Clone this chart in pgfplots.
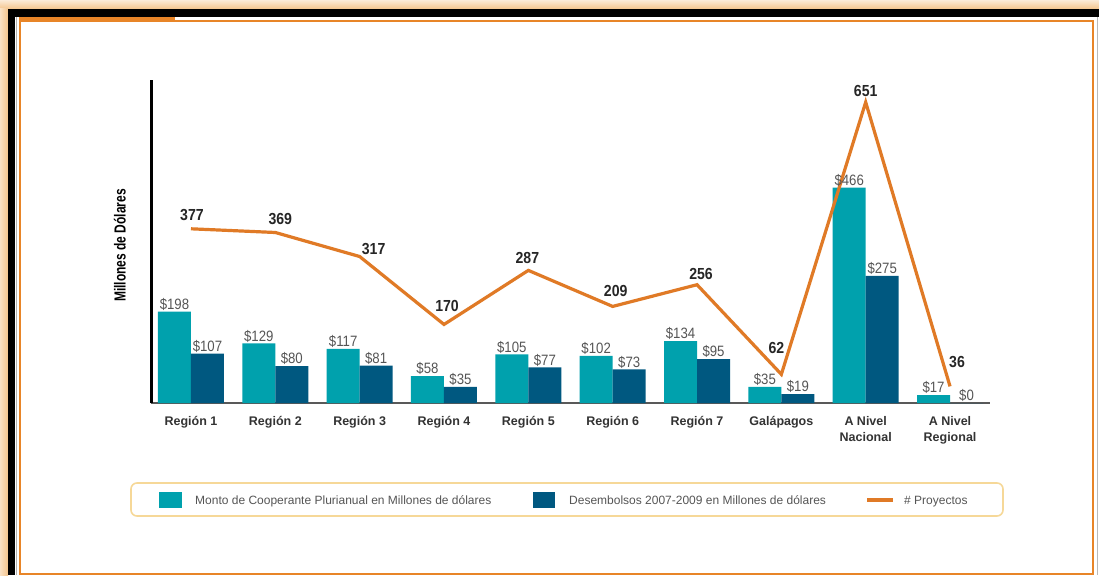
\documentclass[border=0pt]{standalone}
\usepackage{fontspec}
\setmainfont{Liberation Sans}
\newfontfamily\numfont[FakeStretch=0.88]{Liberation Sans}
\newfontfamily\ylabfont[FakeStretch=0.75]{Liberation Sans}
\usepackage{pgfplots}
\pgfplotsset{compat=1.18}
\usepackage{pgfplotstable}

\definecolor{barteal}{RGB}{0,161,173}
\definecolor{bardark}{RGB}{0,88,128}
\definecolor{lineorange}{RGB}{224,122,38}
\definecolor{frameorange}{RGB}{232,133,40}
\definecolor{glow}{RGB}{244,196,140}
\definecolor{legborder}{RGB}{246,216,152}
\definecolor{labelgray}{RGB}{85,85,85}

% regions, two money series (millones de dolares) and number of projects
% dx/dy: offset of the project label from its point
\pgfplotstableread{
x teal dark proj dx dy
0 198 107 377 1 14
1 129 80 369 5 13
2 117 81 317 14 8
3 58 35 170 3 18
4 105 77 287 -1 12
5 102 73 209 3 15
6 134 95 256 4 11
7 35 19 62 -5 26
8 466 275 651 0 11
9 17 0 36 7 24
}\datatable

\begin{document}
\begin{tikzpicture}
\useasboundingbox (0,0) rectangle (1099pt,-575pt);
\fill[white] (0,0) rectangle (1099pt,-575pt);

% frame
\shade[top color=glow!35, bottom color=glow] (0,0) rectangle (1099pt,-9pt);
\shade[left color=glow!50, right color=glow] (0,-9pt) rectangle (8pt,-575pt);
\fill[black] (8pt,-9pt) rectangle (1099pt,-17pt);
\fill[black] (8pt,-9pt) rectangle (15pt,-575pt);
\draw[gray!60, line width=1pt] (16.5pt,-17pt) -- (16.5pt,-575pt);
\draw[frameorange, line width=2.4pt] (20pt,-575pt) -- (20pt,-21pt) -- (1093pt,-21pt) -- (1093pt,-575pt);
\draw[frameorange, line width=2pt] (20pt,-574pt) -- (1093pt,-574pt);
\fill[frameorange] (18.5pt,-17pt) rectangle (175pt,-21pt);
\draw[gray!55, line width=1pt] (1097.5pt,-17pt) -- (1097.5pt,-575pt);

\begin{axis}[
    at={(151pt,-403pt)}, anchor=south west,
    scale only axis,
    width=839pt, height=323pt,
    xmin=-0.474, xmax=9.474,
    ymin=0, ymax=699,
    enlargelimits=false,
    axis x line=bottom, axis y line=left,
    x axis line style={-, line width=1.3pt, black!65},
    y axis line style={-, line width=3pt, black},
    ytick=\empty,
    xtick=data,
    xticklabels={Región 1, Región 2, Región 3, Región 4, Región 5, Región 6, Región 7, Galápagos, {A Nivel\\Nacional}, {A Nivel\\Regional}},
    typeset ticklabels with strut,
    xticklabel style={font=\bfseries\fontsize{12.5}{16}\selectfont, text=black!80, align=center, inner sep=0pt, yshift=-11.5pt},
    major tick length=0pt,
    ylabel={Millones de Dólares},
    ylabel style={font=\ylabfont\bfseries\fontsize{16}{16}\selectfont, at={(axis description cs:-0.037,0.488)}, anchor=center},
    /pgf/number format/assume math mode=true,
    clip=false,
]
\addplot[ybar, bar width=33pt, bar shift=-16.5pt, fill=barteal, draw=none,
    nodes near coords={\$\pgfmathprintnumber{\pgfplotspointmeta}},
    nodes near coords style={font=\numfont\fontsize{15}{15}\selectfont, text=labelgray, inner sep=1pt, anchor=south, xshift=-16.5pt}]
    table[x=x, y=teal]{\datatable};
\addplot[ybar, bar width=33pt, bar shift=16.5pt, fill=bardark, draw=none,
    nodes near coords={\$\pgfmathprintnumber{\pgfplotspointmeta}},
    nodes near coords style={font=\numfont\fontsize{15}{15}\selectfont, text=labelgray, inner sep=1pt, anchor=south, xshift=16.5pt}]
    table[x=x, y=dark]{\datatable};
\addplot[color=lineorange, line width=3.2pt, mark=none,
    nodes near coords, point meta=\thisrow{proj},
    visualization depends on={\thisrow{dx}\as\dx},
    visualization depends on={\thisrow{dy}\as\dy},
    nodes near coords style={font=\numfont\bfseries\fontsize{16}{16}\selectfont, text=black!85, anchor=center, xshift=\dx pt, yshift=\dy pt}]
    table[x=x, y=proj]{\datatable};
\end{axis}

% legend
\draw[legborder, line width=1.6pt, rounded corners=6pt] (131pt,-483pt) rectangle (1003pt,-516pt);
\fill[barteal] (159pt,-492pt) rectangle (182pt,-508pt);
\node[anchor=base west, inner sep=0pt, font=\fontsize{12}{12}\selectfont, text=labelgray] at (195pt,-504pt) {Monto de Cooperante Plurianual en Millones de dólares};
\fill[bardark] (533pt,-492pt) rectangle (555pt,-508pt);
\node[anchor=base west, inner sep=0pt, font=\fontsize{12}{12}\selectfont, text=labelgray] at (569pt,-504pt) {Desembolsos 2007-2009 en Millones de dólares};
\draw[lineorange, line width=3.2pt] (867pt,-500pt) -- (893pt,-500pt);
\node[anchor=base west, inner sep=0pt, font=\fontsize{12}{12}\selectfont, text=labelgray] at (904pt,-504pt) {\# Proyectos};
\end{tikzpicture}
\end{document}
